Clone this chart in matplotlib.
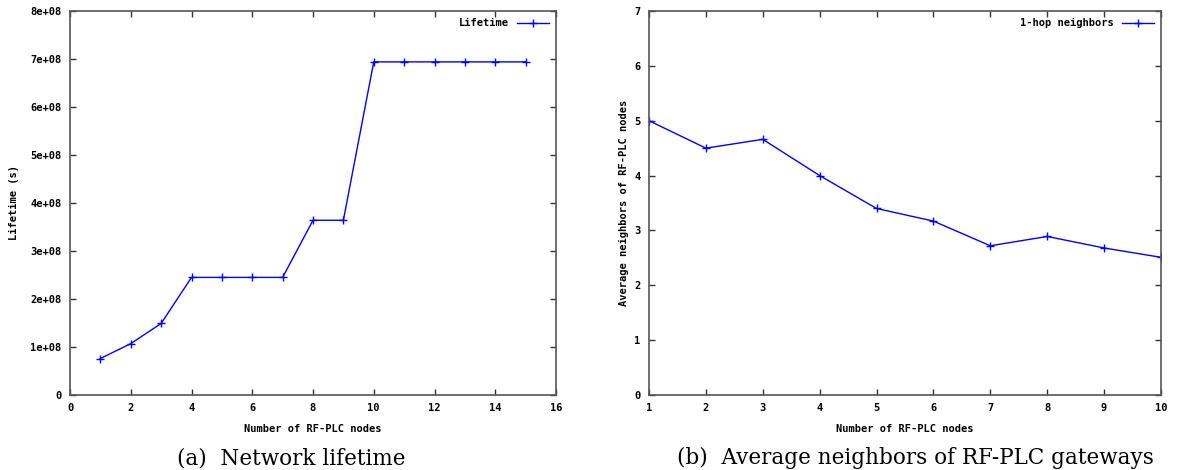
import numpy as np
import matplotlib
matplotlib.use('Agg')
from matplotlib import pyplot as plt
from matplotlib.ticker import FuncFormatter

# data
nodes_a = [1, 2, 3, 4, 5, 6, 7, 8, 9, 10, 11, 12, 13, 14, 15]
lifetime = [0.76e8, 1.07e8, 1.49e8, 2.45e8, 2.45e8, 2.45e8, 2.45e8,
            3.64e8, 3.64e8, 6.94e8, 6.94e8, 6.94e8, 6.94e8, 6.94e8, 6.94e8]

nodes_b = [1, 2, 3, 4, 5, 6, 7, 8, 9, 10]
neighbors = [5.0, 4.5, 4.66, 4.0, 3.4, 3.17, 2.72, 2.89, 2.68, 2.51]

xticks_a = [0, 2, 4, 6, 8, 10, 12, 14, 16]
yticks_a = [0, 1e8, 2e8, 3e8, 4e8, 5e8, 6e8, 7e8, 8e8]
xticks_b = [1, 2, 3, 4, 5, 6, 7, 8, 9, 10]
yticks_b = [0, 1, 2, 3, 4, 5, 6, 7]

mono = 'DejaVu Sans Mono'
fs = 7.5
W, H = 1177, 470
fig = plt.figure(figsize=(W / 100, H / 100), dpi=100)

def px_axes(l, t, r, b):
    return fig.add_axes([l / W, 1 - b / H, (r - l) / W, (b - t) / H])

def style(ax):
    for s in ax.spines.values():
        s.set_color('#555555')
        s.set_linewidth(1.2)
    ax.tick_params(direction='in', length=4, width=1, top=True, right=True,
                   labelsize=fs, pad=6, color='#333333')
    for lab in ax.get_xticklabels() + ax.get_yticklabels():
        lab.set_fontfamily(mono)
        lab.set_fontweight('bold')

def sci(v, pos):
    if v == 0:
        return '0'
    return '%de+08' % round(v / 1e8)

leg_font = {'family': mono, 'weight': 'bold', 'size': fs}

# (a) network lifetime
ax1 = px_axes(70, 11, 556, 395)
ax1.plot(nodes_a, lifetime, color='blue', lw=1, marker='+', ms=6, mew=1,
         label='Lifetime')
ax1.set_xlim(0, 16)
ax1.set_ylim(0, 8e8)
ax1.set_xticks(xticks_a)
ax1.set_yticks(yticks_a)
ax1.yaxis.set_major_formatter(FuncFormatter(sci))
ax1.set_xlabel('Number of RF-PLC nodes', fontsize=fs, fontfamily=mono,
               fontweight='bold', labelpad=8)
ax1.set_ylabel('Lifetime (s)', fontsize=fs, fontfamily=mono,
               fontweight='bold', labelpad=8)
style(ax1)
ax1.legend(loc='upper right', frameon=False, markerfirst=False,
           prop=leg_font, handlelength=3, borderaxespad=0.3)

# (b) average neighbors
ax2 = px_axes(649, 11, 1161, 395)
ax2.plot(nodes_b, neighbors, color='blue', lw=1, marker='+', ms=6, mew=1,
         label='1-hop neighbors')
ax2.set_xlim(1, 10)
ax2.set_ylim(0, 7)
ax2.set_xticks(xticks_b)
ax2.set_yticks(yticks_b)
ax2.set_xlabel('Number of RF-PLC nodes', fontsize=fs, fontfamily=mono,
               fontweight='bold', labelpad=8)
ax2.set_ylabel('Average neighbors of RF-PLC nodes', fontsize=fs,
               fontfamily=mono, fontweight='bold', labelpad=4)
style(ax2)
ax2.legend(loc='upper right', frameon=False, markerfirst=False,
           prop=leg_font, handlelength=3, borderaxespad=0.3)

# captions
fig.text(291 / W, 1 - 458 / H, '(a)  Network lifetime', ha='center',
         va='center', fontsize=15.5, fontfamily='DejaVu Serif')
fig.text(915 / W, 1 - 458 / H, '(b)  Average neighbors of RF-PLC gateways',
         ha='center', va='center', fontsize=15.5, fontfamily='DejaVu Serif')

fig.savefig('out.png', dpi=100)
